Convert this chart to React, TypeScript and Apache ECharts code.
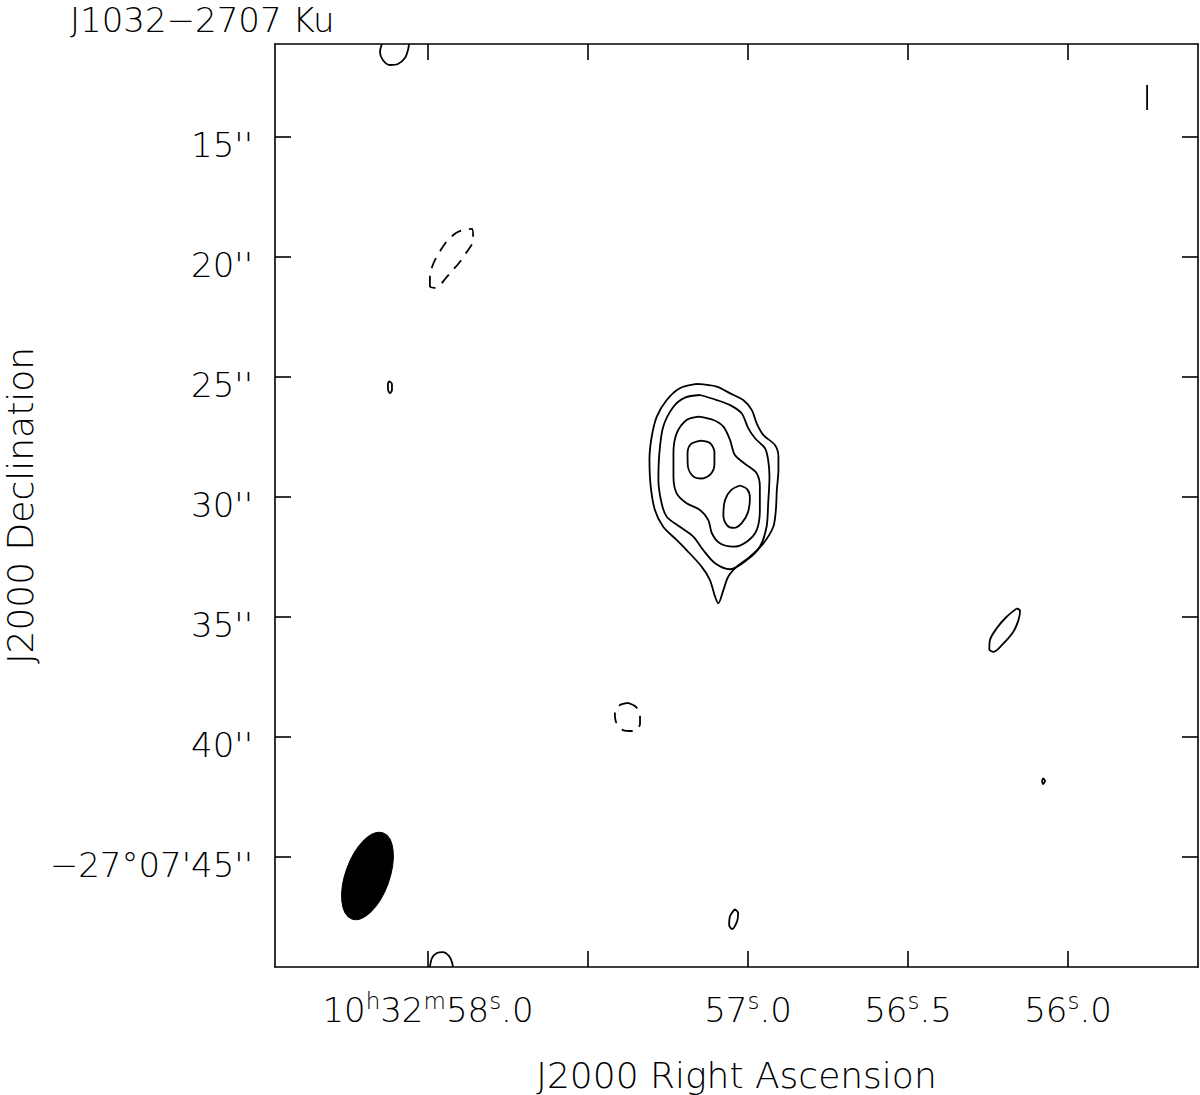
import { useEffect, useRef } from "react";
import * as echarts from "echarts";

// ---- axes (RA seconds of 10h32m, Dec arcsec of -27°07') ----
const raTicks = [58.0, 57.5, 57.0, 56.5, 56.0];
const raLabelValues = [58.0, 57.0, 56.5, 56.0];
const decTicks = [15, 20, 25, 30, 35, 40, 45];
const raView = [55.594, 58.478];
const decView = [11.125, 49.583];

// ---- contours: [RA s, Dec arcsec] ----
const srcLevel1 = [
  [57.16, 25.29], [57.098, 25.4], [57.056, 25.68], [57.015, 25.96], [56.988, 26.38], [56.973, 26.93],
  [56.952, 27.42], [56.916, 27.83], [56.905, 28.32], [56.905, 28.88], [56.91, 29.71], [56.913, 30.54],
  [56.921, 31.24], [56.952, 31.93], [56.994, 32.49], [57.035, 32.9], [57.062, 33.32], [57.077, 33.88],
  [57.093, 34.43], [57.103, 34.15], [57.119, 33.46], [57.145, 32.9], [57.192, 32.21], [57.223, 31.79],
  [57.265, 31.24], [57.291, 30.54], [57.304, 29.57], [57.308, 28.46], [57.301, 27.49], [57.285, 26.65],
  [57.254, 25.96], [57.213, 25.47], [57.16, 25.29],
];
const srcLevel2 = [
  [57.15, 25.75], [57.098, 25.96], [57.056, 26.17], [57.02, 26.51], [56.999, 27.14], [56.978, 27.55],
  [56.947, 27.97], [56.937, 28.46], [56.933, 29.15], [56.937, 30.26], [56.942, 31.24], [56.963, 32.07],
  [57.004, 32.63], [57.056, 33.01], [57.103, 32.76], [57.14, 32.21], [57.171, 31.65], [57.213, 31.24],
  [57.254, 30.82], [57.27, 30.26], [57.28, 29.29], [57.277, 28.18], [57.265, 27.07], [57.233, 26.24],
  [57.197, 25.86], [57.15, 25.75],
];
const srcLevel3 = [
  [57.155, 26.65], [57.108, 26.79], [57.077, 27.07], [57.056, 27.63], [57.041, 28.25], [57.004, 28.67],
  [56.973, 29.01], [56.963, 29.57], [56.963, 30.54], [56.973, 31.38], [57.004, 31.86], [57.046, 32.07],
  [57.088, 31.93], [57.113, 31.51], [57.124, 30.96], [57.15, 30.54], [57.192, 30.26], [57.223, 29.85],
  [57.233, 29.15], [57.233, 28.18], [57.223, 27.35], [57.192, 26.79], [57.155, 26.65],
];
const srcPeakA = [
  [57.147, 27.65], [57.119, 27.75], [57.105, 28.13], [57.105, 28.63], [57.116, 29.04], [57.144, 29.23],
  [57.172, 29.13], [57.188, 28.71], [57.189, 28.17], [57.178, 27.79], [57.147, 27.65],
];
const srcPeakB = [
  [57.025, 29.52], [57.003, 29.67], [56.994, 30.04], [57.0, 30.63], [57.019, 31.08], [57.044, 31.29],
  [57.066, 31.17], [57.077, 30.75], [57.072, 30.13], [57.053, 29.71], [57.025, 29.52],
];
const noiseTopArc = [
  [58.144, 11.125], [58.15, 11.46], [58.141, 11.79], [58.119, 12.0], [58.094, 11.96], [58.072, 11.71],
  [58.0625, 11.375], [58.059, 11.125],
];
const noiseSmall25 = [
  [58.122, 25.17], [58.1125, 25.29], [58.1125, 25.54], [58.119, 25.67], [58.125, 25.5], [58.125, 25.29],
  [58.122, 25.17],
];
const noiseNeg20 = [
  [57.994, 21.25], [57.994, 20.75], [57.9875, 20.42], [57.975, 20.04], [57.956, 19.625], [57.9375, 19.29],
  [57.9125, 19.0], [57.891, 18.875], [57.8625, 18.83], [57.859, 19.17], [57.8625, 19.46], [57.881, 19.83],
  [57.903, 20.25], [57.925, 20.58], [57.944, 20.875], [57.9625, 21.17], [57.978, 21.29], [57.994, 21.25],
];
const noiseNeg39 = [
  [57.375, 38.58], [57.35, 38.75], [57.3375, 39.08], [57.3375, 39.46], [57.359, 39.75], [57.391, 39.71],
  [57.4125, 39.375], [57.416, 38.96], [57.4, 38.67], [57.375, 38.58],
];
const noise47 = [
  [57.041, 47.17], [57.031, 47.33], [57.034, 47.67], [57.05, 48.0], [57.059, 47.83], [57.056, 47.46],
  [57.041, 47.17],
];
const noise35 = [
  [56.16, 34.64], [56.15, 34.74], [56.155, 35.13], [56.171, 35.61], [56.202, 36.1], [56.233, 36.45],
  [56.246, 36.35], [56.244, 35.96], [56.223, 35.47], [56.192, 34.99], [56.16, 34.64],
];
const noiseDot42 = [[56.078, 41.71], [56.072, 41.83], [56.078, 41.96], [56.081, 41.83], [56.078, 41.71]];
const noiseStroke13 = [[55.753, 12.83], [55.753, 13.875]];
const noiseBottomArc = [
  [57.994, 49.58], [57.9875, 49.21], [57.972, 49.0], [57.953, 48.96], [57.934, 49.13], [57.925, 49.38],
  [57.922, 49.58],
];

// ---- restoring beam ----
const beamCenter = [58.189, 45.79];
const beamMajor = 3.81; // arcsec
const beamMinor = 1.83; // arcsec
const beamPA = -20; // deg

const FONT = "'DejaVu Sans', 'Liberation Sans', sans-serif";
const WEIGHT = 200;

const contours = [
  { data: srcLevel1, dashed: false },
  { data: srcLevel2, dashed: false },
  { data: srcLevel3, dashed: false },
  { data: srcPeakA, dashed: false },
  { data: srcPeakB, dashed: false },
  { data: noiseTopArc, dashed: false },
  { data: noiseSmall25, dashed: false },
  { data: noiseNeg20, dashed: true },
  { data: noiseNeg39, dashed: true },
  { data: noise47, dashed: false },
  { data: noise35, dashed: false },
  { data: noiseDot42, dashed: false },
  { data: noiseStroke13, dashed: false },
  { data: noiseBottomArc, dashed: false },
];

export default function App() {
  const ref = useRef<HTMLDivElement>(null);
  useEffect(() => {
    if (!ref.current) return;
    const chart = echarts.init(ref.current, undefined, { renderer: "svg" });
    const black = "#000";
    const lineW = 1.6;
    const raFormatter = (v: number) => {
      const whole = Math.floor(v + 1e-9);
      const frac = Math.round((v - whole) * 10);
      if (Math.abs(v - 58) < 1e-6) return `{n|10}{s|h}{n|32}{s|m}{n|${whole}}{s|s}{n|.${frac}}`;
      return `{n|${whole}}{s|s}{n|.${frac}}`;
    };
    const decFormatter = (v: number) => (v === 45 ? "{d|−27°07'45''}" : `{d|${v}''}`);
    const rich = {
      n: { fontFamily: FONT, fontWeight: WEIGHT, fontSize: 34, color: black, lineHeight: 42 },
      s: { fontFamily: FONT, fontWeight: WEIGHT, fontSize: 23, color: black, verticalAlign: "top", lineHeight: 42 },
    };
    const decRich = {
      d: { fontFamily: FONT, fontWeight: WEIGHT, fontSize: 34, color: black, padding: [16, 0, 0, 0] },
    };
    const baseX = {
      type: "value",
      min: raView[0],
      max: raView[1],
      inverse: true,
      splitLine: { show: false },
      axisLine: { show: true, onZero: false, lineStyle: { color: black, width: lineW } },
      axisTick: { show: true, inside: true, length: 16, customValues: raTicks, lineStyle: { color: black, width: lineW } },
    };
    const baseY = {
      type: "value",
      min: decView[0],
      max: decView[1],
      inverse: true,
      splitLine: { show: false },
      axisLine: { show: true, onZero: false, lineStyle: { color: black, width: lineW } },
      axisTick: { show: true, inside: true, length: 16, customValues: decTicks, lineStyle: { color: black, width: lineW } },
    };
    const series: any[] = contours.map((c) => ({
      type: "line",
      data: c.data,
      xAxisIndex: 0,
      yAxisIndex: 0,
      showSymbol: false,
      symbol: "none",
      smooth: 0.3,
      silent: true,
      clip: true,
      lineStyle: { color: black, width: 1.8, type: c.dashed ? [11, 8] : "solid" },
    }));
    series.push({
      type: "custom",
      xAxisIndex: 0,
      yAxisIndex: 0,
      silent: true,
      data: [[beamCenter[0], beamCenter[1], beamMajor, beamMinor, beamPA]],
      renderItem: (_p: any, api: any) => {
        const c = api.coord([api.value(0), api.value(1)]);
        const pxPerArcsec = Math.abs(api.size([0, 1])[1]);
        return {
          type: "ellipse",
          x: c[0],
          y: c[1],
          rotation: (api.value(4) * Math.PI) / 180,
          shape: { cx: 0, cy: 0, rx: (api.value(3) / 2) * pxPerArcsec, ry: (api.value(2) / 2) * pxPerArcsec },
          style: { fill: black, stroke: black },
        };
      },
    });
    chart.setOption({
      animation: false,
      backgroundColor: "#fff",
      title: {
        text: "J1032−2707 Ku",
        left: 70,
        top: 0,
        padding: 0,
        textStyle: { fontFamily: FONT, fontWeight: WEIGHT, fontSize: 34, lineHeight: 40, color: black },
      },
      grid: { left: 275, right: 2, top: 44, bottom: 128, containLabel: false, outerBoundsMode: "none" },
      xAxis: [
        {
          ...baseX,
          position: "bottom",
          axisLabel: {
            show: true,
            customValues: raLabelValues,
            formatter: raFormatter,
            margin: 22,
            rich,
          },
          name: "J2000 Right Ascension",
          nameLocation: "middle",
          nameGap: 90,
          nameTextStyle: { fontFamily: FONT, fontWeight: WEIGHT, fontSize: 36, color: black },
        },
        { ...baseX, position: "top", axisLabel: { show: false } },
      ],
      yAxis: [
        {
          ...baseY,
          position: "left",
          axisLabel: {
            show: true,
            customValues: decTicks,
            formatter: decFormatter,
            margin: 22,
            rich: decRich,
          },
          name: "J2000 Declination",
          nameLocation: "middle",
          nameRotate: 90,
          nameGap: 236,
          nameTextStyle: { fontFamily: FONT, fontWeight: WEIGHT, fontSize: 36, color: black },
        },
        { ...baseY, position: "right", axisLabel: { show: false } },
      ],
      series,
    });
    return () => chart.dispose();
  }, []);
  return (
    <div
      ref={ref}
      style={{ position: "absolute", left: 0, top: 0, width: 1200, height: 1095, background: "#fff" }}
    />
  );
}
